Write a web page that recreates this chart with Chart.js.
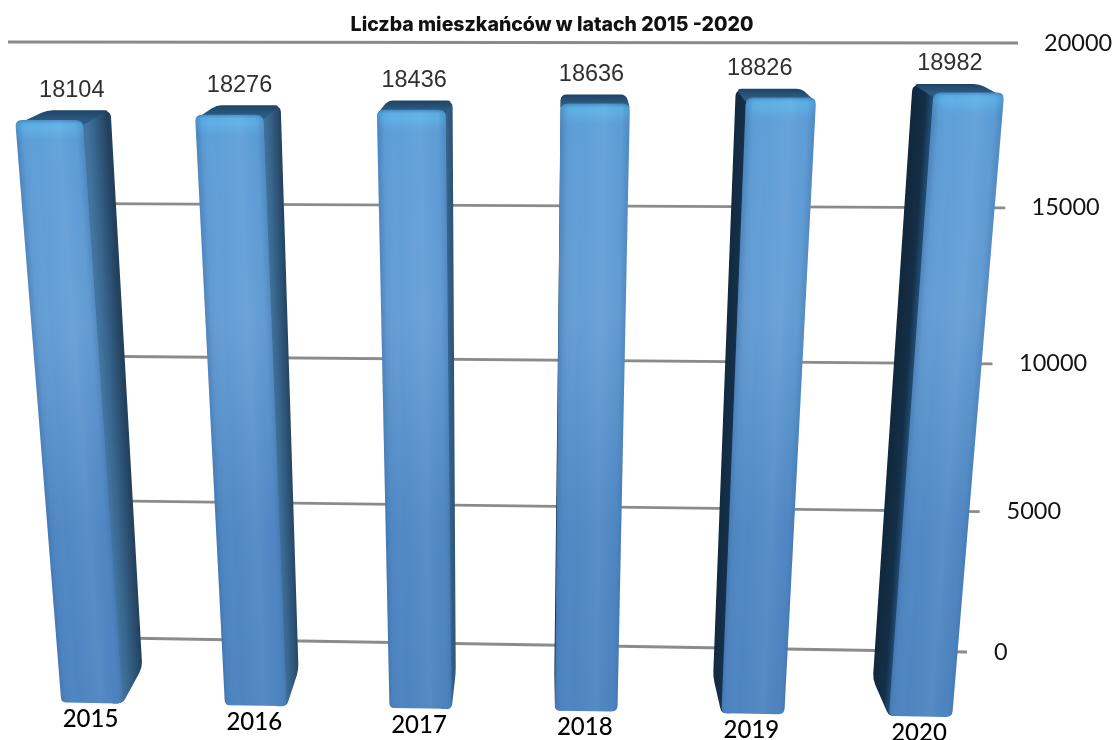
<!DOCTYPE html>
<html lang="pl">
<head>
<meta charset="utf-8">
<title>Liczba mieszkańców</title>
<style>html,body{margin:0;padding:0;background:#fff}canvas{display:block}</style>
<script src="https://cdn.jsdelivr.net/npm/chart.js@4/dist/chart.umd.min.js"></script>
</head>
<body>
<canvas id="c" width="1116" height="740"></canvas>
<script>
const categories = ['2015', '2016', '2017', '2018', '2019', '2020'];
const residents = [18104, 18276, 18436, 18636, 18826, 18982];
const chartTitle = 'Liczba mieszkańców w latach 2015 -2020';
const axisMax = 20000;
const axisStep = 5000;

const lerp = (a, b, k) => a + (b - a) * k;

// Perspective of the reference's 3D view: index position + value fraction -> page
const bow = (xi, t) => (3 + 2 * t) * xi * (5 - xi) / 6.25;
function front(xi, t) {
  return {
    x: lerp(92 + 165.7 * xi, 44.4 + 185.4 * xi, t) - bow(xi, t),
    y: lerp(703 + 2.7 * xi, 59, t)
  };
}
function back(xi, t) {
  return {
    x: lerp(113 + 158 * xi, 75.2 + 174.6 * xi, t) - bow(xi, t),
    y: lerp(667 + 2.6 * xi, 52, t)
  };
}
function wallLine(t) {
  const den = 1 - 0.102 * t;
  return {
    x0: 120 - 112 * t,
    y0: (638 - 600.3 * t) / den,
    x1: 967 + 51 * t,
    y1: (652 - 613.4 * t) / den
  };
}
const dataLabelShift = [-3, -5, -2, 2, -5, 8];

// Polygon with softened corners; the cut is clamped to half of each edge.
function roundedPoly(ctx, pts, radii) {
  const n = pts.length;
  ctx.beginPath();
  for (let i = 0; i < n; i++) {
    const p = pts[i], a = pts[(i + n - 1) % n], b = pts[(i + 1) % n];
    const la = Math.hypot(a.x - p.x, a.y - p.y) || 1;
    const lb = Math.hypot(b.x - p.x, b.y - p.y) || 1;
    const r = Math.min(radii[i], la / 2, lb / 2);
    const s = { x: p.x + (a.x - p.x) * r / la, y: p.y + (a.y - p.y) * r / la };
    const e = { x: p.x + (b.x - p.x) * r / lb, y: p.y + (b.y - p.y) * r / lb };
    if (i === 0) ctx.moveTo(s.x, s.y); else ctx.lineTo(s.x, s.y);
    ctx.quadraticCurveTo(p.x, p.y, e.x, e.y);
  }
  ctx.closePath();
}

function acrossGradient(ctx, topMid, botMid, halfWidth, stops) {
  const dx = botMid.x - topMid.x, dy = botMid.y - topMid.y;
  const len = Math.hypot(dx, dy);
  const nx = dy / len, ny = -dx / len;
  const cx = (topMid.x + botMid.x) / 2, cy = (topMid.y + botMid.y) / 2;
  const g = ctx.createLinearGradient(cx - nx * halfWidth, cy - ny * halfWidth, cx + nx * halfWidth, cy + ny * halfWidth);
  stops.forEach(s => g.addColorStop(s[0], s[1]));
  return g;
}
const mid = (a, b) => ({ x: (a.x + b.x) / 2, y: (a.y + b.y) / 2 });
const shifted = (p, dx, dy) => ({ x: p.x + dx, y: p.y + dy });

// Bars stay ordinary Chart.js bar elements; only their drawing is projected.
Chart.BarElement.prototype.draw = function (ctx) {
  const chart = Chart.getChart('c');
  if (!chart) return;
  const xs = chart.scales.x, ys = chart.scales.y;
  const step = xs.getPixelForValue(1) - xs.getPixelForValue(0);
  const xi = (this.x - xs.getPixelForValue(0)) / step;
  const hw = this.width / 2 / step;
  const t = ys.getValueForPixel(this.y) / axisMax;

  const FTL = front(xi - hw, t), FTR = front(xi + hw, t);
  const FBL = front(xi - hw, 0), FBR = front(xi + hw, 0);
  const BTL = back(xi - hw, t), BTR = back(xi + hw, t);
  const BBL = back(xi - hw, 0), BBR = back(xi + hw, 0);

  ctx.save();
  // right side face, tucked under the front face
  if (BTR.x > FTR.x) {
    const half = Math.max(9, (BBR.x - FBR.x) / 2 + 1);
    ctx.fillStyle = acrossGradient(ctx, mid(FTR, BTR), mid(FBR, BBR), half, [
      [0, '#42749f'], [0.35, '#36648c'], [1, '#23405c']]);
    roundedPoly(ctx, [shifted(FTR, -10, 0), BTR, BBR, FBR, shifted(FBR, -10, 0)], [0, 7, 6, 8, 0]);
    ctx.fill();
  }
  // left side face, tucked under the front face
  if (BBL.x < FBL.x) {
    const half = Math.max(9, (FBL.x - BBL.x) / 2 + 1);
    ctx.fillStyle = acrossGradient(ctx, mid(BTL, FTL), mid(BBL, FBL), half, [
      [0, '#11283d'], [0.7, '#142f48'], [1, '#1f4a6f']]);
    roundedPoly(ctx, [BTL, shifted(FTL, 10, 0), shifted(FBL, 10, 0), FBL, BBL], [8, 0, 0, 8, 6]);
    ctx.fill();
  }
  // top cap, tucked under the front face
  const capG = ctx.createLinearGradient(0, BTL.y, 0, FTL.y);
  capG.addColorStop(0, '#1e4363');
  capG.addColorStop(1, '#2b5b82');
  ctx.fillStyle = capG;
  roundedPoly(ctx, [BTL, BTR, shifted(FTR, 0, 5), shifted(FTL, 0, 5)], [6, 6, 2, 2]);
  ctx.fill();

  // front face
  const path = () => roundedPoly(ctx, [FTL, FTR, FBR, FBL], [7, 7, 6, 5]);
  const vG = ctx.createLinearGradient(0, FTL.y, 0, FBL.y);
  vG.addColorStop(0, '#4887bf');
  vG.addColorStop(0.006, '#5aaee4');
  vG.addColorStop(0.014, '#5eb0e6');
  vG.addColorStop(0.035, '#5e9fd9');
  vG.addColorStop(0.35, '#659ed5');
  vG.addColorStop(0.7, '#5189c5');
  vG.addColorStop(1, '#4d84c0');
  ctx.fillStyle = vG;
  path();
  ctx.fill();

  const w = (Math.hypot(FTR.x - FTL.x, FTR.y - FTL.y) + (FBR.x - FBL.x)) / 2;
  ctx.fillStyle = acrossGradient(ctx, mid(FTL, FTR), mid(FBL, FBR), w / 2, [
    [0, 'rgba(25,55,105,0.22)'], [0.08, 'rgba(25,55,105,0.05)'], [0.3, 'rgba(255,255,255,0)'],
    [0.65, 'rgba(255,255,255,0.05)'], [0.9, 'rgba(25,55,105,0.02)'], [1, 'rgba(25,55,105,0.18)']]);
  path();
  ctx.fill();
  ctx.restore();
};

const wallGrid = {
  id: 'wallGrid',
  beforeDatasetsDraw(chart) {
    const { ctx } = chart;
    ctx.save();
    ctx.strokeStyle = '#8a8c8b';
    ctx.lineWidth = 2.8;
    chart.scales.y.ticks.forEach(tick => {
      const l = wallLine(tick.value / axisMax);
      ctx.beginPath();
      ctx.moveTo(l.x0, l.y0);
      ctx.lineTo(l.x1, l.y1);
      ctx.stroke();
    });
    ctx.restore();
  }
};

const axisText = {
  id: 'axisText',
  afterDatasetsDraw(chart) {
    const { ctx } = chart;
    const meta = chart.getDatasetMeta(0);
    const xs = chart.scales.x, ys = chart.scales.y;
    const step = xs.getPixelForValue(1) - xs.getPixelForValue(0);
    ctx.save();
    ctx.textBaseline = 'middle';

    // value axis, right of the wall
    ctx.textAlign = 'left';
    ctx.fillStyle = '#141414';
    ctx.font = '23.5px Lato';
    ys.ticks.forEach(tick => {
      const t = tick.value / axisMax;
      const l = wallLine(t);
      ctx.fillText(String(tick.value), 994 + 50 * t, l.y1);
    });

    // data labels and category labels
    ctx.textAlign = 'center';
    meta.data.forEach((el, i) => {
      const xi = (el.x - xs.getPixelForValue(0)) / step;
      const t = residents[i] / axisMax;
      const top = back(xi, t);
      ctx.fillStyle = '#303030';
      ctx.font = '23.5px "Liberation Sans"';
      ctx.fillText(String(residents[i]), top.x - 4 + dataLabelShift[i], top.y - 20);

      const foot = front(xi, 0);
      ctx.fillStyle = '#000';
      ctx.font = '500 24px Lato';
      ctx.fillText(categories[i], foot.x - 1.5, foot.y + 16.5);
    });
    ctx.restore();
  }
};

new Chart(document.getElementById('c'), {
  type: 'bar',
  data: {
    labels: categories,
    datasets: [{
      label: 'Liczba mieszkańców',
      data: residents,
      backgroundColor: '#5b9bd5',
      barPercentage: 0.376,
      categoryPercentage: 1
    }]
  },
  options: {
    responsive: false,
    animation: false,
    layout: { padding: { right: 12 } },
    plugins: {
      legend: { display: false },
      tooltip: { enabled: false },
      title: {
        display: true,
        text: chartTitle,
        color: '#111',
        font: { family: 'Inter', size: 19.5, weight: '800' },
        padding: { top: 13, bottom: 10 }
      }
    },
    scales: {
      x: { display: false },
      y: { display: false, min: 0, max: axisMax, ticks: { stepSize: axisStep } }
    }
  },
  plugins: [wallGrid, axisText]
});
</script>
</body>
</html>
